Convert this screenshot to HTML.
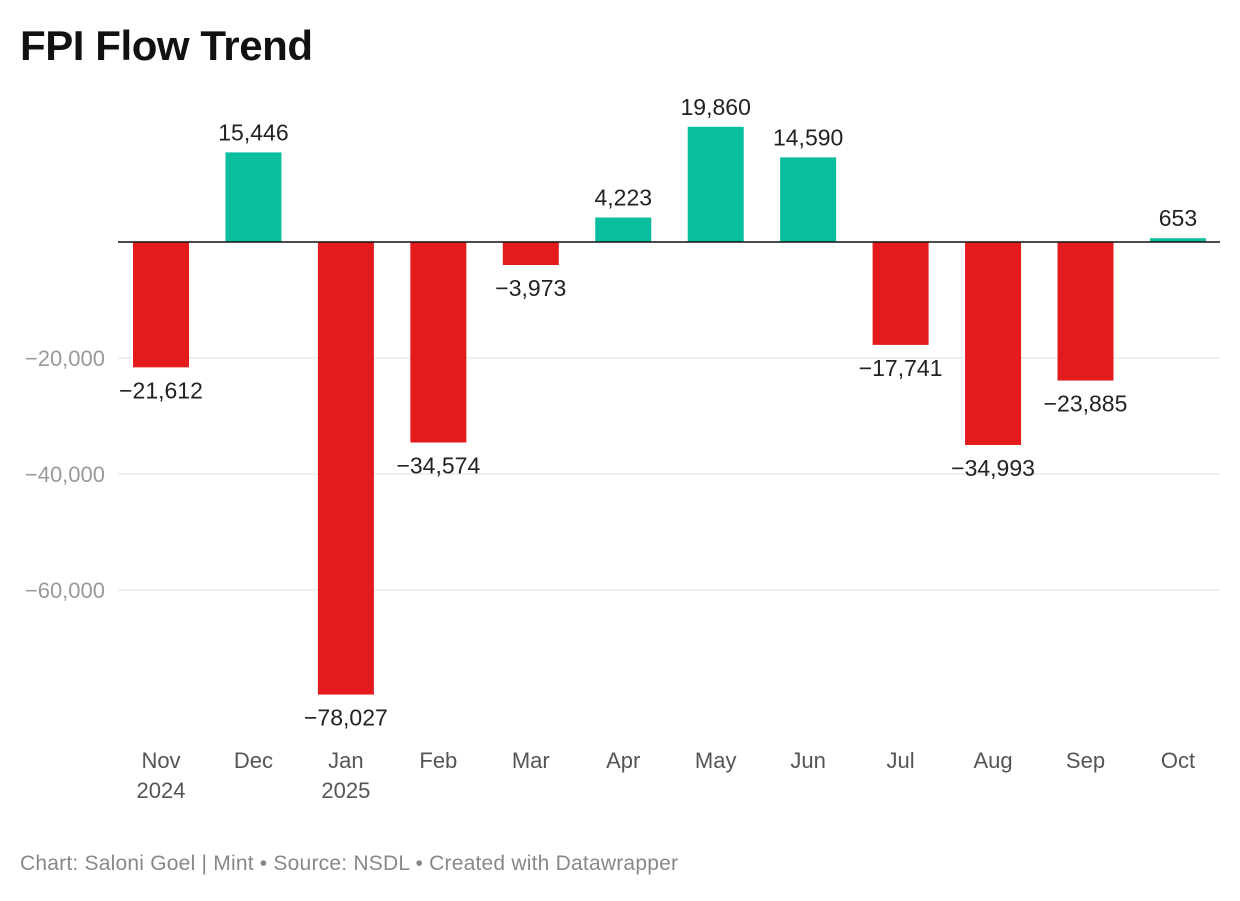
<!DOCTYPE html>
<html><head><meta charset="utf-8">
<style>
body{margin:0;background:#fff;font-family:"Liberation Sans",Arial,sans-serif;}
svg text{font-family:"Liberation Sans",Arial,sans-serif;}
</style></head>
<body>
<svg width="1240" height="896" viewBox="0 0 1240 896">
<text x="20" y="60" font-size="42" font-weight="bold" fill="#111" textLength="293">FPI Flow Trend</text>
<g id="grid"></g>
<g id="bars"></g>
<line x1="118" x2="1220" y1="242" y2="242" stroke="#111" stroke-width="1.5" id="zero"/>
<g id="labels"></g>
<text x="20" y="870" font-size="21" fill="#888" textLength="658">Chart: Saloni Goel | Mint • Source: NSDL • Created with Datawrapper</text>
</svg>
<script>
const months=["Nov","Dec","Jan","Feb","Mar","Apr","May","Jun","Jul","Aug","Sep","Oct"];
const years=["2024","","2025","","","","","","","","",""];
const values=[-21612,15446,-78027,-34574,-3973,4223,19860,14590,-17741,-34993,-23885,653];
const ticks=[-20000,-40000,-60000];
const tickLabels=["−20,000","−40,000","−60,000"];
const NS="http://www.w3.org/2000/svg";
const y0=242,k=116/20000;
function y(v){return y0-v*k;}
function x(i){return 161+i*92.45;}
const bw=56;
const grid=document.getElementById('grid'),bars=document.getElementById('bars'),labels=document.getElementById('labels');
function mk(tag,attrs,parent,text){const e=document.createElementNS(NS,tag);for(const a in attrs)e.setAttribute(a,attrs[a]);if(text!==undefined)e.textContent=text;parent.appendChild(e);return e;}
ticks.forEach((t,i)=>{
 const l=mk('line',{x1:118,x2:1220,y1:y(t),y2:y(t),stroke:'#e2e2e2','stroke-width':1},grid);
 
 
 const tx=mk('text',{x:105,y:y(t)+8,'font-size':22,fill:'#999','text-anchor':'end'},grid,tickLabels[i]);
 
 
});
values.forEach((v,i)=>{
 const top=Math.min(y(v),y0),h=Math.abs(y(v)-y0);
 const r=mk('rect',{x:x(i)-bw/2,y:top,width:bw,height:Math.max(h,1),fill:v<0?'#e41b1c':'#09bd9f'},bars);
 
 
 const s=(v<0?'−':'')+Math.abs(v).toLocaleString('en-US');
 const ly=v<0?y(v)+31:y(v)-12;
 const t=mk('text',{x:x(i),y:ly,'font-size':23,fill:'#222','text-anchor':'middle'},labels,s);
 
 
 const m=mk('text',{x:x(i),y:768,'font-size':22,fill:'#555','text-anchor':'middle'},labels,months[i]);
 
 
 if(years[i]){
  const yy=mk('text',{x:x(i),y:798,'font-size':22,fill:'#555','text-anchor':'middle'},labels,years[i]);
  
  
 }
});
</script>
</body></html>
